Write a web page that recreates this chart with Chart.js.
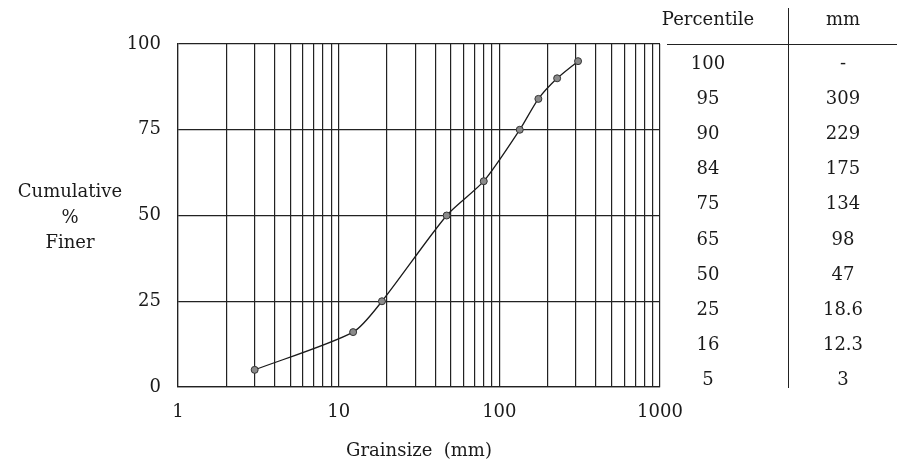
<!DOCTYPE html>
<html>
<head>
  <title>Grainsize distribution</title>
  <meta charset="utf-8">
  <script src="https://cdn.jsdelivr.net/npm/chart.js@4.4.1/dist/chart.umd.min.js"></script>
  <style type="text/css">
    body {
      margin: 0;
      background: #fff;
      font-family: "DejaVu Serif", serif;
      color: #1a1a1a;
    }
    #wrap {
      position: relative;
      width: 897px;
      height: 466px;
    }
    #graph {
      position: absolute;
      left: 0;
      top: 0;
    }
    .ylabel {
      position: absolute;
      left: 10px;
      width: 120px;
      top: 178px;
      text-align: center;
      font-size: 18px;
      line-height: 25.5px;
    }
    .cell {
      position: absolute;
      width: 110px;
      margin-left: -55px;
      text-align: center;
      font-size: 18px;
      line-height: 20px;
    }
    .vline {
      position: absolute;
      left: 788px;
      top: 8px;
      width: 1px;
      height: 380px;
      background: #222;
    }
    .hline {
      position: absolute;
      left: 667px;
      top: 44px;
      width: 230px;
      height: 1px;
      background: #222;
    }
  </style>
  <script>
    // percentile table
    var TABLE_PCT = ['100', '95', '90', '84', '75', '65', '50', '25', '16', '5'];
    var TABLE_MM  = ['-', '309', '229', '175', '134', '98', '47', '18.6', '12.3', '3'];

    // plotted curve (grainsize in mm, cumulative % finer)
    var CURVE_MM  = [3, 12.3, 18.6, 47, 80, 134, 175, 229, 309];
    var CURVE_PCT = [5, 16, 25, 50, 60, 75, 84, 90, 95];

    var X_TICKS = [1, 2, 3, 4, 5, 6, 7, 8, 9,
                   10, 20, 30, 40, 50, 60, 70, 80, 90,
                   100, 200, 300, 400, 500, 600, 700, 800, 900, 1000];
    var X_LABELS = [1, 10, 100, 1000];
    var Y_TICKS = [0, 25, 50, 75, 100];
  </script>
</head>
<body>
  <div id="wrap">
    <canvas id="graph" width="897" height="466"></canvas>
    <div class="ylabel">Cumulative<br>%<br>Finer</div>
    <div class="vline"></div>
    <div class="hline"></div>
    <div id="table"></div>
  </div>

  <script>
    var FONT = { family: '"DejaVu Serif", serif', size: 18 };
    var LINE = '#222';

    // table text
    var table = document.getElementById('table');
    function cell(x, y, txt) {
      var d = document.createElement('div');
      d.className = 'cell';
      d.style.left = x + 'px';
      d.style.top = (y - 10) + 'px';
      d.textContent = txt;
      table.appendChild(d);
    }
    cell(708, 19, 'Percentile');
    cell(843, 19, 'mm');
    for (var i = 0; i < TABLE_PCT.length; i++) {
      var y = 63 + i * 35.1;
      cell(708, y, TABLE_PCT[i]);
      cell(843, y, TABLE_MM[i]);
    }

    var points = CURVE_MM.map(function(mm, i) {
      return { x: mm, y: CURVE_PCT[i] };
    });

    new Chart(document.getElementById('graph'), {
      type: 'scatter',
      data: {
        datasets: [{
          data: points,
          showLine: true,
          tension: 0.25,
          borderColor: '#1a1a1a',
          borderWidth: 1.3,
          pointRadius: 3.5,
          pointBackgroundColor: '#8a8a8a',
          pointBorderColor: '#333',
          pointBorderWidth: 1
        }]
      },
      options: {
        responsive: false,
        animation: false,
        layout: { padding: { left: 0, top: 44, right: 237, bottom: 0 } },
        plugins: {
          legend: { display: false },
          tooltip: { enabled: false }
        },
        scales: {
          x: {
            type: 'logarithmic',
            min: 1,
            max: 1000,
            afterBuildTicks: function(scale) {
              scale.ticks = X_TICKS.map(function(v) { return { value: v }; });
            },
            afterFit: function(scale) { scale.height = 79; },
            grid: { color: LINE, lineWidth: 1.2, drawTicks: false },
            border: { color: LINE, width: 1.2 },
            ticks: {
              autoSkip: false,
              maxRotation: 0,
              padding: 15,
              color: '#1a1a1a',
              font: FONT,
              callback: function(v) {
                return X_LABELS.indexOf(v) >= 0 ? String(v) : '';
              }
            },
            title: {
              display: true,
              text: 'Grainsize  (mm)',
              color: '#1a1a1a',
              font: FONT,
              padding: { top: 0, bottom: 4 }
            }
          },
          y: {
            min: 0,
            max: 100,
            afterBuildTicks: function(scale) {
              scale.ticks = Y_TICKS.map(function(v) { return { value: v }; });
            },
            afterFit: function(scale) { scale.width = 178; },
            grid: { color: LINE, lineWidth: 1.2, drawTicks: false },
            border: { color: LINE, width: 1.2 },
            ticks: {
              padding: 17,
              color: '#1a1a1a',
              font: FONT
            }
          }
        }
      }
    });
  </script>
</body>
</html>
